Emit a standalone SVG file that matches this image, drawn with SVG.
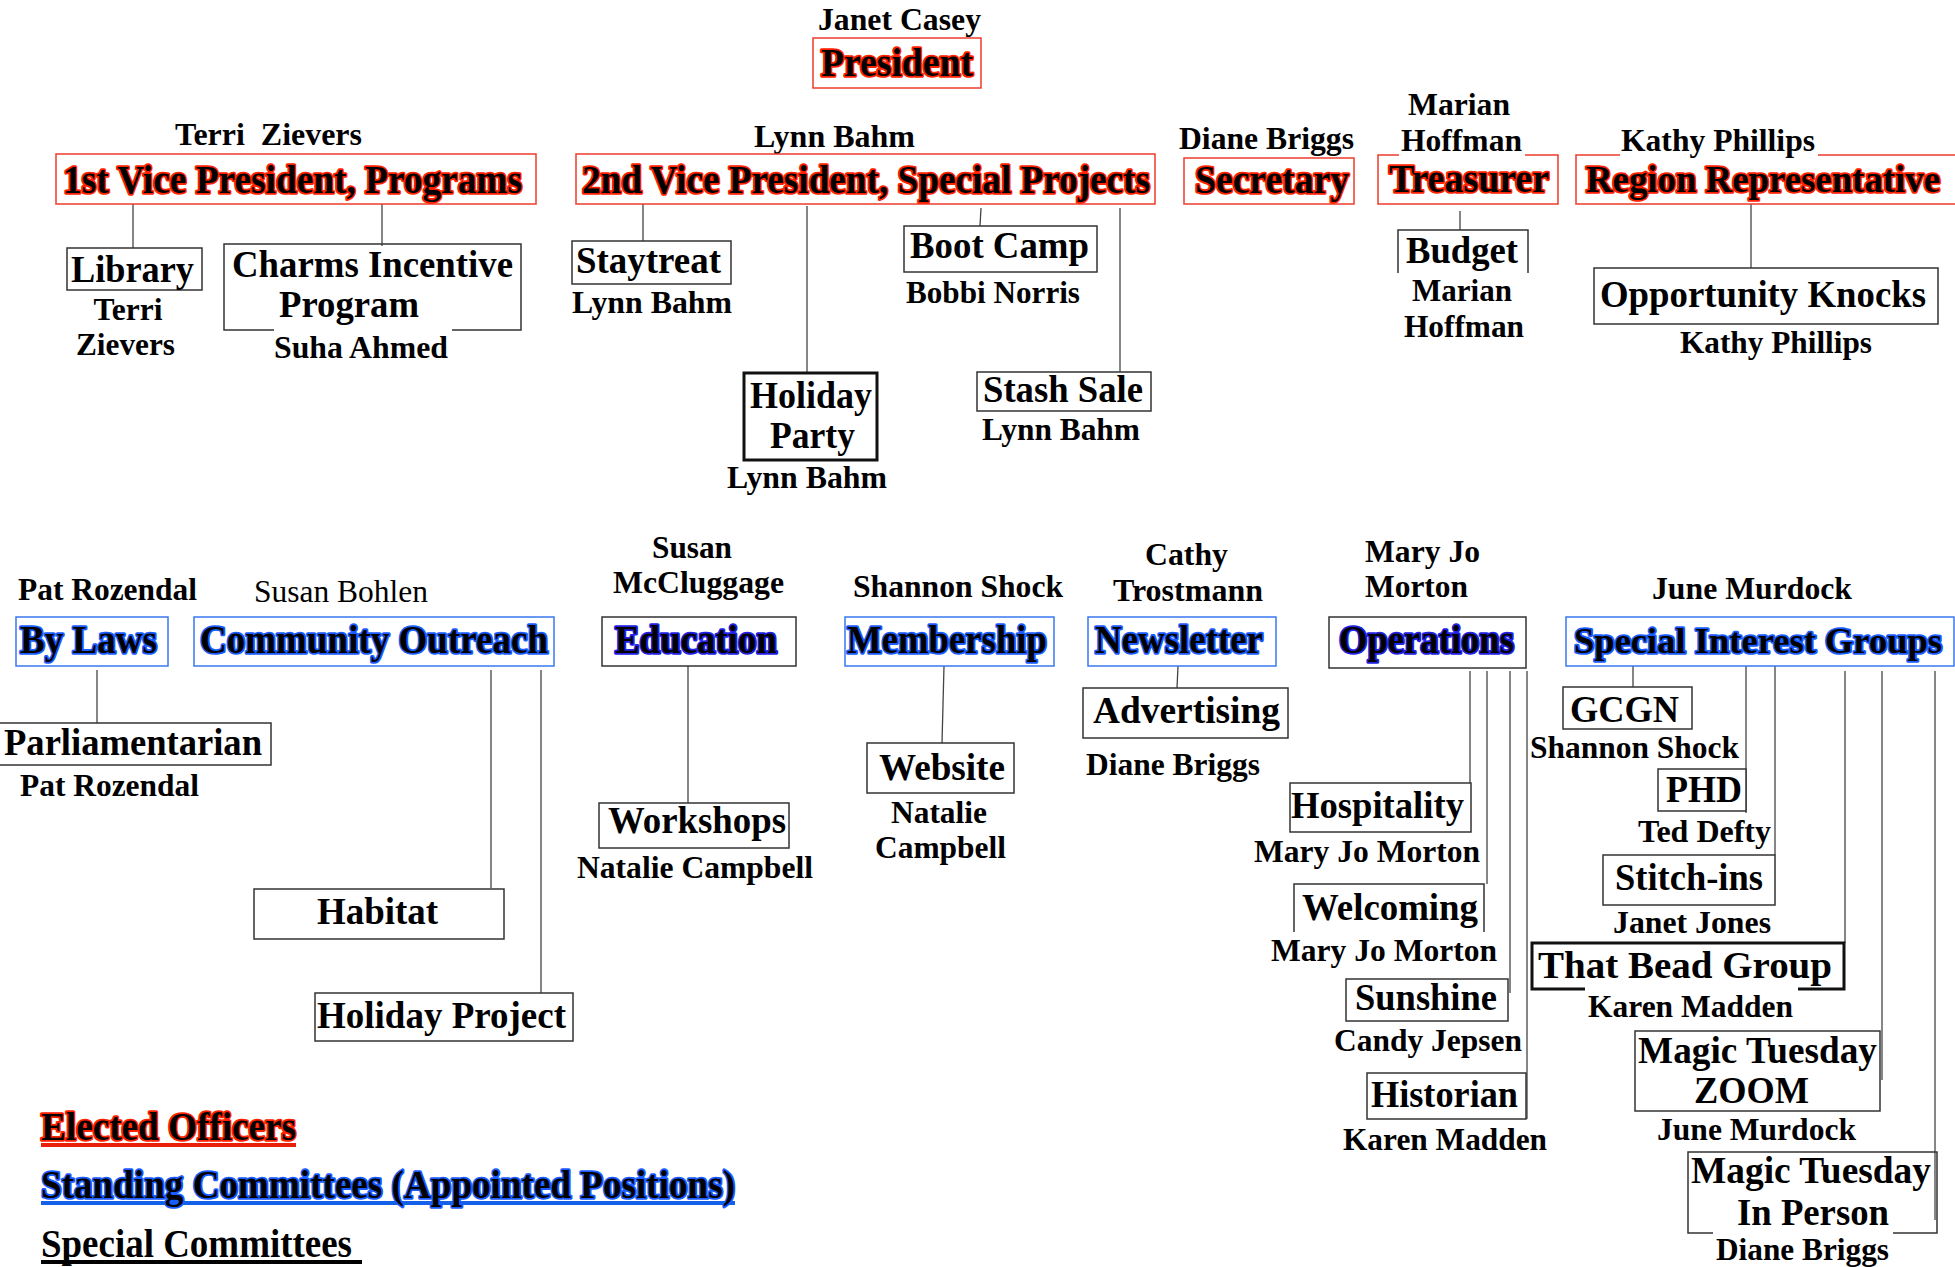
<svg xmlns="http://www.w3.org/2000/svg" width="1955" height="1267" viewBox="0 0 1955 1267">
<style>
text{font-family:"Liberation Serif","Times New Roman",serif;fill:#000}
.n{font-weight:bold;font-size:31.5px}
.nr{font-weight:normal;font-size:31.5px}
.t{font-weight:bold;font-size:38px}
.h{font-weight:bold;font-size:40px;stroke-width:3.6;paint-order:stroke;stroke-linejoin:round}
.hr{stroke:#ff2200}
.hb{stroke:#1a5cff}
.hn{stroke:#2222e6}
.box{fill:#fff;stroke:#333;stroke-width:1.5}
.open{fill:none;stroke:#333;stroke-width:1.5}
.thick{fill:#fff;stroke:#111;stroke-width:3}
.rbox{fill:#fff;stroke:#ee3b2b;stroke-width:1.5}
.ropen{fill:none;stroke:#ee3b2b;stroke-width:1.5}
.bbox{fill:#fff;stroke:#3a78f0;stroke-width:1.5}
.c line{stroke:#444;stroke-width:1.3}
</style>
<rect width="1955" height="1267" fill="#fff"/>

<g id="connectors" class="c">
<line x1="133" y1="204" x2="133" y2="248"/>
<line x1="382" y1="204" x2="382" y2="246"/>
<line x1="643" y1="204" x2="643" y2="241"/>
<line x1="807" y1="206" x2="807" y2="373"/>
<line x1="981" y1="208" x2="980" y2="226"/>
<line x1="1120" y1="208" x2="1120" y2="372"/>
<line x1="1460" y1="211" x2="1460" y2="230"/>
<line x1="1751" y1="204" x2="1751" y2="268"/>
<line x1="97" y1="670" x2="97" y2="726"/>
<line x1="491" y1="670" x2="491" y2="888"/>
<line x1="541" y1="670" x2="541" y2="993"/>
<line x1="688" y1="666" x2="688" y2="803"/>
<line x1="944" y1="666" x2="942" y2="743"/>
<line x1="1178" y1="666" x2="1177" y2="688"/>
<line x1="1470" y1="671" x2="1470" y2="783"/>
<line x1="1487" y1="671" x2="1487" y2="884"/>
<line x1="1510" y1="671" x2="1510" y2="993"/>
<line x1="1527" y1="671" x2="1527" y2="1119"/>
<line x1="1633" y1="666" x2="1633" y2="687"/>
<line x1="1746" y1="666" x2="1746" y2="813"/>
<line x1="1775" y1="666" x2="1775" y2="855"/>
<line x1="1845" y1="671" x2="1845" y2="943"/>
<line x1="1882" y1="671" x2="1882" y2="1080"/>
<line x1="1935" y1="671" x2="1935" y2="1220"/>
</g>

<!-- Elected officers -->
<g id="president">
<text class="n" x="818" y="30" textLength="163" lengthAdjust="spacingAndGlyphs">Janet Casey</text>
<rect class="rbox" x="813" y="38" width="168" height="50"/>
<text class="h hr" x="821" y="76" textLength="152" lengthAdjust="spacingAndGlyphs">President</text>
</g>
<g id="vp1">
<text class="n" x="175" y="145" textLength="187" lengthAdjust="spacingAndGlyphs" xml:space="preserve">Terri  Zievers</text>
<rect class="rbox" x="56" y="154" width="480" height="50"/>
<text class="h hr" x="63" y="193" textLength="459" lengthAdjust="spacingAndGlyphs">1st Vice President, Programs</text>
</g>
<g id="vp2">
<text class="n" x="754" y="147" textLength="161" lengthAdjust="spacingAndGlyphs">Lynn Bahm</text>
<rect class="rbox" x="576" y="154" width="579" height="50"/>
<text class="h hr" x="582" y="193" textLength="568" lengthAdjust="spacingAndGlyphs">2nd Vice President, Special Projects</text>
</g>
<g id="secretary">
<text class="n" x="1179" y="149" textLength="175" lengthAdjust="spacingAndGlyphs">Diane Briggs</text>
<rect class="rbox" x="1184" y="158" width="170" height="46"/>
<text class="h hr" x="1195" y="193" textLength="154" lengthAdjust="spacingAndGlyphs">Secretary</text>
</g>
<g id="treasurer">
<text class="n" x="1408" y="115" textLength="102" lengthAdjust="spacingAndGlyphs">Marian</text>
<text class="n" x="1401" y="151" textLength="121" lengthAdjust="spacingAndGlyphs">Hoffman</text>
<path class="ropen" d="M1399 155 H1378 V204 H1558 V155 H1525"/>
<text class="h hr" x="1389" y="192" textLength="160" lengthAdjust="spacingAndGlyphs">Treasurer</text>
</g>
<g id="region">
<text class="n" x="1621" y="151" textLength="194" lengthAdjust="spacingAndGlyphs">Kathy Phillips</text>
<path class="ropen" d="M1620 155 H1576 V204 H1960 M1818 155 H1960"/>
<text class="h hr" x="1586" y="192" style="font-size:37px" textLength="354" lengthAdjust="spacingAndGlyphs">Region Representative</text>
</g>

<!-- Children of officers -->
<g id="library">
<rect class="box" x="67" y="248" width="135" height="42"/>
<text class="t" x="71" y="282" textLength="123" lengthAdjust="spacingAndGlyphs">Library</text>
<text class="n" x="128" y="320" text-anchor="middle">Terri</text>
<text class="n" x="76" y="355" textLength="99" lengthAdjust="spacingAndGlyphs">Zievers</text>
</g>
<g id="charms">
<path class="open" d="M274 330 H224 V244 H521 V330 H452"/>
<text class="t" x="232" y="277" textLength="281" lengthAdjust="spacingAndGlyphs">Charms Incentive</text>
<text class="t" x="279" y="317" textLength="140" lengthAdjust="spacingAndGlyphs">Program</text>
<text class="n" x="274" y="358" textLength="174" lengthAdjust="spacingAndGlyphs">Suha Ahmed</text>
</g>
<g id="staytreat">
<rect class="box" x="572" y="241" width="159" height="43"/>
<text class="t" x="576" y="273" textLength="145" lengthAdjust="spacingAndGlyphs">Staytreat</text>
<text class="n" x="572" y="313" textLength="160" lengthAdjust="spacingAndGlyphs">Lynn Bahm</text>
</g>
<g id="holiday-party">
<rect class="thick" x="744" y="373" width="133" height="87"/>
<text class="t" x="750" y="408" textLength="122" lengthAdjust="spacingAndGlyphs">Holiday</text>
<text class="t" x="770" y="448" textLength="85" lengthAdjust="spacingAndGlyphs">Party</text>
<text class="n" x="727" y="488" textLength="160" lengthAdjust="spacingAndGlyphs">Lynn Bahm</text>
</g>
<g id="boot-camp">
<rect class="box" x="904" y="226" width="193" height="46"/>
<text class="t" x="910" y="258" textLength="179" lengthAdjust="spacingAndGlyphs">Boot Camp</text>
<text class="n" x="906" y="303" textLength="174" lengthAdjust="spacingAndGlyphs">Bobbi Norris</text>
</g>
<g id="stash-sale">
<rect class="box" x="977" y="372" width="174" height="39"/>
<text class="t" x="983" y="402" textLength="160" lengthAdjust="spacingAndGlyphs">Stash Sale</text>
<text class="n" x="982" y="440" textLength="158" lengthAdjust="spacingAndGlyphs">Lynn Bahm</text>
</g>
<g id="budget">
<path class="open" d="M1398 273 V230 H1528 V273"/>
<text class="t" x="1406" y="263" textLength="112" lengthAdjust="spacingAndGlyphs">Budget</text>
<text class="n" x="1412" y="301" textLength="100" lengthAdjust="spacingAndGlyphs">Marian</text>
<text class="n" x="1404" y="337" textLength="120" lengthAdjust="spacingAndGlyphs">Hoffman</text>
</g>
<g id="opportunity">
<rect class="box" x="1594" y="268" width="344" height="56"/>
<text class="t" x="1600" y="307" textLength="326" lengthAdjust="spacingAndGlyphs">Opportunity Knocks</text>
<text class="n" x="1680" y="353" textLength="192" lengthAdjust="spacingAndGlyphs">Kathy Phillips</text>
</g>

<!-- Standing committees -->
<g id="bylaws">
<text class="n" x="18" y="600" textLength="179" lengthAdjust="spacingAndGlyphs">Pat Rozendal</text>
<rect class="bbox" x="16" y="617" width="152" height="49"/>
<text class="h hb" x="20" y="653" textLength="137" lengthAdjust="spacingAndGlyphs">By Laws</text>
</g>
<g id="parliamentarian">
<rect class="box" x="-2" y="723" width="273" height="42"/>
<text class="t" x="4" y="755" textLength="258" lengthAdjust="spacingAndGlyphs">Parliamentarian</text>
<text class="n" x="20" y="796" textLength="179" lengthAdjust="spacingAndGlyphs">Pat Rozendal</text>
</g>
<g id="community">
<text class="nr" x="254" y="602" textLength="174" lengthAdjust="spacingAndGlyphs">Susan Bohlen</text>
<rect class="bbox" x="194" y="617" width="360" height="49"/>
<text class="h hb" x="200" y="653" textLength="348" lengthAdjust="spacingAndGlyphs">Community Outreach</text>
</g>
<g id="habitat">
<rect class="box" x="254" y="889" width="250" height="50"/>
<text class="t" x="317" y="924" textLength="121" lengthAdjust="spacingAndGlyphs">Habitat</text>
</g>
<g id="holiday-project">
<rect class="box" x="315" y="993" width="258" height="48"/>
<text class="t" x="317" y="1028" textLength="249" lengthAdjust="spacingAndGlyphs">Holiday Project</text>
</g>
<g id="education">
<text class="n" x="652" y="558" textLength="80" lengthAdjust="spacingAndGlyphs">Susan</text>
<text class="n" x="613" y="593" textLength="171" lengthAdjust="spacingAndGlyphs">McCluggage</text>
<rect class="box" x="602" y="617" width="194" height="49"/>
<text class="h hn" x="615" y="653" textLength="162" lengthAdjust="spacingAndGlyphs">Education</text>
</g>
<g id="workshops">
<rect class="box" x="599" y="803" width="190" height="45"/>
<text class="t" x="608" y="833" textLength="178" lengthAdjust="spacingAndGlyphs">Workshops</text>
<text class="n" x="577" y="878" textLength="236" lengthAdjust="spacingAndGlyphs">Natalie Campbell</text>
</g>
<g id="membership">
<text class="n" x="853" y="597" textLength="210" lengthAdjust="spacingAndGlyphs">Shannon Shock</text>
<rect class="bbox" x="845" y="617" width="209" height="49"/>
<text class="h hb" x="847" y="653" textLength="200" lengthAdjust="spacingAndGlyphs">Membership</text>
</g>
<g id="website">
<rect class="box" x="867" y="743" width="147" height="50"/>
<text class="t" x="879" y="780" textLength="126" lengthAdjust="spacingAndGlyphs">Website</text>
<text class="n" x="891" y="823" textLength="96" lengthAdjust="spacingAndGlyphs">Natalie</text>
<text class="n" x="875" y="858" textLength="131" lengthAdjust="spacingAndGlyphs">Campbell</text>
</g>
<g id="newsletter">
<text class="n" x="1145" y="565" textLength="83" lengthAdjust="spacingAndGlyphs">Cathy</text>
<text class="n" x="1113" y="601" textLength="150" lengthAdjust="spacingAndGlyphs">Trostmann</text>
<rect class="bbox" x="1088" y="617" width="188" height="49"/>
<text class="h hb" x="1095" y="653" textLength="168" lengthAdjust="spacingAndGlyphs">Newsletter</text>
</g>
<g id="advertising">
<rect class="box" x="1083" y="688" width="205" height="50"/>
<text class="t" x="1093" y="723" textLength="187" lengthAdjust="spacingAndGlyphs">Advertising</text>
<text class="n" x="1086" y="775" textLength="174" lengthAdjust="spacingAndGlyphs">Diane Briggs</text>
</g>
<g id="operations">
<text class="n" x="1365" y="562" textLength="115" lengthAdjust="spacingAndGlyphs">Mary Jo</text>
<text class="n" x="1365" y="597" textLength="103" lengthAdjust="spacingAndGlyphs">Morton</text>
<rect class="box" x="1329" y="617" width="197" height="51"/>
<text class="h hn" x="1339" y="653" textLength="175" lengthAdjust="spacingAndGlyphs">Operations</text>
</g>
<g id="hospitality">
<rect class="box" x="1290" y="783" width="181" height="49"/>
<text class="t" x="1291" y="818" textLength="173" lengthAdjust="spacingAndGlyphs">Hospitality</text>
<text class="n" x="1254" y="862" textLength="226" lengthAdjust="spacingAndGlyphs">Mary Jo Morton</text>
</g>
<g id="welcoming">
<path class="open" d="M1294 932 V884 H1484 V932"/>
<text class="t" x="1302" y="920" textLength="176" lengthAdjust="spacingAndGlyphs">Welcoming</text>
<text class="n" x="1271" y="961" textLength="226" lengthAdjust="spacingAndGlyphs">Mary Jo Morton</text>
</g>
<g id="sunshine">
<rect class="box" x="1346" y="979" width="162" height="42"/>
<text class="t" x="1355" y="1010" textLength="142" lengthAdjust="spacingAndGlyphs">Sunshine</text>
<text class="n" x="1334" y="1051" textLength="188" lengthAdjust="spacingAndGlyphs">Candy Jepsen</text>
</g>
<g id="historian">
<rect class="box" x="1367" y="1073" width="159" height="46"/>
<text class="t" x="1371" y="1107" textLength="147" lengthAdjust="spacingAndGlyphs">Historian</text>
<text class="n" x="1343" y="1150" textLength="204" lengthAdjust="spacingAndGlyphs">Karen Madden</text>
</g>
<g id="sig">
<text class="n" x="1652" y="599" textLength="200" lengthAdjust="spacingAndGlyphs">June Murdock</text>
<rect class="bbox" x="1566" y="617" width="388" height="49"/>
<text class="h hb" x="1574" y="653" style="font-size:36.5px" textLength="368" lengthAdjust="spacingAndGlyphs">Special Interest Groups</text>
</g>
<g id="gcgn">
<rect class="box" x="1563" y="687" width="129" height="42"/>
<text class="t" x="1570" y="722" textLength="109" lengthAdjust="spacingAndGlyphs">GCGN</text>
<text class="n" x="1530" y="758" textLength="209" lengthAdjust="spacingAndGlyphs">Shannon Shock</text>
</g>
<g id="phd">
<rect class="box" x="1658" y="769" width="88" height="42"/>
<text class="t" x="1666" y="802" textLength="76" lengthAdjust="spacingAndGlyphs">PHD</text>
<text class="n" x="1638" y="842" textLength="133" lengthAdjust="spacingAndGlyphs">Ted Defty</text>
</g>
<g id="stitch-ins">
<rect class="box" x="1603" y="855" width="172" height="50"/>
<text class="t" x="1615" y="890" textLength="148" lengthAdjust="spacingAndGlyphs">Stitch-ins</text>
<text class="n" x="1613" y="933" textLength="158" lengthAdjust="spacingAndGlyphs">Janet Jones</text>
</g>
<g id="bead-group">
<path d="M1585 989 H1532 V943 H1844 V989 H1798" fill="#fff" stroke="#111" stroke-width="3"/>
<text class="t" x="1538" y="978" textLength="294" lengthAdjust="spacingAndGlyphs">That Bead Group</text>
<text class="n" x="1588" y="1017" textLength="205" lengthAdjust="spacingAndGlyphs">Karen Madden</text>
</g>
<g id="magic-zoom">
<rect class="box" x="1635" y="1031" width="245" height="80"/>
<text class="t" x="1638" y="1063" textLength="239" lengthAdjust="spacingAndGlyphs">Magic Tuesday</text>
<text class="t" x="1694" y="1103" textLength="115" lengthAdjust="spacingAndGlyphs">ZOOM</text>
<text class="n" x="1657" y="1140" textLength="199" lengthAdjust="spacingAndGlyphs">June Murdock</text>
</g>
<g id="magic-person">
<path class="open" d="M1713 1233 H1688 V1152 H1937 V1233 H1893"/>
<text class="t" x="1691" y="1183" textLength="240" lengthAdjust="spacingAndGlyphs">Magic Tuesday</text>
<text class="t" x="1737" y="1225" textLength="152" lengthAdjust="spacingAndGlyphs">In Person</text>
<text class="n" x="1716" y="1260" textLength="173" lengthAdjust="spacingAndGlyphs">Diane Briggs</text>
</g>

<!-- Legend -->
<g id="legend">
<rect x="41" y="1143" width="255" height="4" fill="#e8200a"/>
<text class="h hr" x="41" y="1140" textLength="255" lengthAdjust="spacingAndGlyphs">Elected Officers</text>
<rect x="41" y="1201" width="694" height="4" fill="#1560e8"/>
<text class="h hb" x="41" y="1198" textLength="694" lengthAdjust="spacingAndGlyphs">Standing Committees (Appointed Positions)</text>
<rect x="41" y="1260" width="321" height="4" fill="#000"/>
<text class="t" x="41" y="1257" style="font-size:40px" textLength="311" lengthAdjust="spacingAndGlyphs">Special Committees</text>
</g>
</svg>
